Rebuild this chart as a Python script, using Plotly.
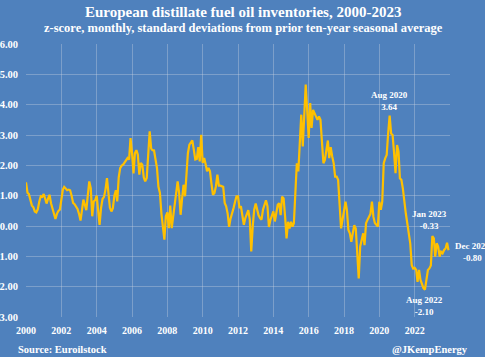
import plotly.graph_objects as go

years = list(range(2000, 2024))
values_by_year = {
    2000: [1.44, 1.10, 1.05, 0.80, 0.68, 0.62, 0.48, 0.45, 0.55, 0.80, 0.98, 0.96],
    2001: [1.05, 0.90, 0.74, 0.90, 1.03, 0.75, 0.56, 0.38, 0.23, 0.40, 0.50, 0.54],
    2002: [0.90, 1.20, 1.29, 1.22, 1.18, 1.20, 1.18, 1.00, 0.76, 0.72, 0.65, 0.56],
    2003: [0.40, 0.18, 0.50, 0.87, 0.70, 0.52, 1.00, 1.47, 1.25, 0.32, 0.81, 0.85],
    2004: [1.00, 0.40, 0.04, 0.60, 0.89, 0.96, 1.20, 1.58, 1.10, 0.60, 0.48, 0.59],
    2005: [1.00, 1.18, 0.81, 1.60, 1.91, 1.99, 2.02, 2.10, 2.19, 2.24, 2.19, 2.90],
    2006: [2.41, 1.73, 2.40, 2.50, 2.35, 1.69, 2.08, 2.02, 1.60, 1.47, 1.58, 2.30],
    2007: [3.12, 2.55, 2.50, 2.49, 2.20, 1.91, 1.29, 1.09, 0.40, 0.00, -0.45, 0.32],
    2008: [0.45, -0.07, 0.67, -0.07, 0.30, 0.80, 1.20, 1.47, 1.09, 0.37, 0.90, 1.36],
    2009: [0.98, 1.91, 2.40, 2.68, 2.74, 2.82, 2.52, 2.19, 2.21, 2.60, 2.13, 3.01],
    2010: [2.08, 2.24, 2.05, 1.80, 1.91, 1.80, 1.40, 1.03, 1.09, 1.31, 1.69, 1.33],
    2011: [1.33, 1.31, 1.29, 0.76, 0.65, 0.41, -0.03, 0.25, 0.48, 0.59, 0.80, 0.98],
    2012: [0.98, 0.59, 0.65, 0.32, 0.04, 0.26, 0.40, 0.52, 0.21, -0.84, 0.00, 0.54],
    2013: [0.74, 0.54, 0.35, 0.26, 0.21, 0.54, 0.70, 0.85, 0.65, -0.03, 0.20, 0.34],
    2014: [0.48, 0.15, 0.50, 0.70, 0.75, 0.36, 0.97, 0.91, 0.31, -0.41, 0.14, -0.08],
    2015: [0.14, -0.02, 0.09, 1.08, 2.07, 1.80, 2.73, 3.67, 2.62, 3.94, 4.66, 3.83],
    2016: [2.90, 4.05, 3.23, 3.83, 3.72, 3.60, 3.50, 3.61, 3.50, 2.79, 2.07, 2.18],
    2017: [2.57, 2.82, 2.24, 2.60, 2.30, 2.07, 1.63, 1.63, 1.52, 0.75, -0.08, 0.20],
    2018: [0.53, 0.80, 0.53, -0.13, -0.24, -0.52, -0.24, 0.03, -0.08, -1.01, -1.73, -0.68],
    2019: [-0.41, -0.24, -0.63, 0.09, 0.20, 0.31, 0.40, 0.80, 0.30, 0.10, 0.05, -0.02],
    2020: [0.80, 0.53, 0.80, 2.07, 2.23, 2.34, 3.05, 3.64, 3.05, 3.00, 2.40, 1.74],
    2021: [2.67, 2.45, 1.57, 1.52, 1.24, 0.75, 0.42, 0.09, -0.24, -0.57, -1.29, -1.40],
    2022: [-1.38, -1.45, -1.84, -1.45, -1.78, -1.90, -2.05, -2.10, -1.75, -1.45, -1.40, -1.30],
    2023: [-0.33, -0.41, -1.01, -0.57, -0.68, -1.01, -0.85, -0.90, -0.79, -0.74, -0.55, -0.80],
}

dates = [f"{y}-{m:02d}-01" for y in years for m in range(1, 13)]
zscores = [v for y in years for v in values_by_year[y]]

x_tick_years = list(range(2000, 2023, 2))
y_ticks = list(range(-3, 7))

callouts = [
    ("2020-08-01", 3.64, "Aug 2020<br>3.64"),
    ("2023-01-01", -0.33, "Jan 2023<br>-0.33"),
    ("2022-08-01", -2.10, "Aug 2022<br>-2.10"),
    ("2023-12-01", -0.80, "Dec 2023<br>-0.80"),
]

BG = "#4F81BD"
FONT = "Liberation Serif"
GRID = "rgba(210,215,225,0.35)"

fig = go.Figure()
fig.add_trace(go.Scatter(x=dates, y=zscores, mode="lines",
                         line=dict(color="#FFC000", width=2.2), hoverinfo="skip"))

fig.update_layout(
    width=485, height=357,
    paper_bgcolor=BG, plot_bgcolor=BG,
    margin=dict(l=26, r=35, t=44, b=40),
    showlegend=False,
    font=dict(family=FONT, color="white"),
    xaxis=dict(type="date", range=["2000-01-01", "2024-01-01"],
               tickvals=[f"{y}-01-01" for y in x_tick_years],
               ticktext=[str(y) for y in x_tick_years],
               showgrid=True, gridcolor=GRID, gridwidth=1,
               zeroline=False, showline=False, ticks="",
               tickfont=dict(family=FONT, size=10, color="white", weight="bold"),
               ticklabelstandoff=6, automargin=False),
    yaxis=dict(range=[-3, 6], tickvals=y_ticks, tickformat=".2f",
               showgrid=True, gridcolor=GRID, gridwidth=1,
               zeroline=False, showline=False, ticks="",
               tickfont=dict(family=FONT, size=10.5, color="white", weight="bold"),
               ticklabelstandoff=7, automargin=False),
)

anns = []
anns.append(dict(text="European distillate fuel oil inventories, 2000-2023",
                 xref="paper", yref="paper", x=0.5, y=1, yanchor="middle", yshift=32, xshift=5,
                 showarrow=False, font=dict(family=FONT, size=15, color="white", weight="bold")))
anns.append(dict(text="z-score, monthly, standard deviations from prior ten-year seasonal average",
                 xref="paper", yref="paper", x=0.5, y=1, yanchor="middle", yshift=16, xshift=5,
                 showarrow=False, font=dict(family=FONT, size=12.5, color="white", weight="bold")))
anns.append(dict(text="Source: Euroilstock", xref="paper", yref="paper", x=0, y=0,
                 xanchor="left", yanchor="middle", xshift=-10, yshift=-32,
                 showarrow=False, font=dict(family=FONT, size=10.5, color="white", weight="bold")))
anns.append(dict(text="@JKempEnergy", xref="paper", yref="paper", x=1, y=0,
                 xanchor="right", yanchor="middle", xshift=20, yshift=-32,
                 showarrow=False, font=dict(family=FONT, size=10.5, color="white", weight="bold")))

lab_font = dict(family=FONT, size=9, color="white", weight="bold")
anns.append(dict(x=callouts[0][0], y=callouts[0][1], text=callouts[0][2], showarrow=False,
                 yanchor="bottom", yshift=2, font=lab_font))
anns.append(dict(x=callouts[1][0], y=callouts[1][1], text=callouts[1][2], showarrow=False,
                 yanchor="bottom", yshift=3, xshift=-3, font=lab_font))
anns.append(dict(x=callouts[2][0], y=callouts[2][1], text=callouts[2][2], showarrow=False,
                 yanchor="top", yshift=-3, font=lab_font))
anns.append(dict(x=callouts[3][0], y=callouts[3][1], text=callouts[3][2], showarrow=False,
                 xanchor="left", yanchor="middle", xshift=4, yshift=-2, align="center", font=lab_font))
fig.update_layout(annotations=anns)

fig.write_html("out.html", config={"displayModeBar": False},
               post_script="document.body.style.margin='0';document.body.style.overflow='hidden';")
